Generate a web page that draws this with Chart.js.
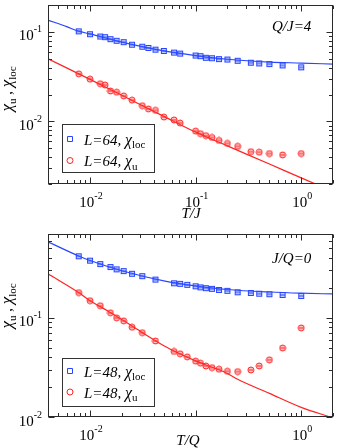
<!DOCTYPE html>
<html>
<head>
<meta charset="utf-8">
<script src="https://cdn.jsdelivr.net/npm/chart.js@4.4.1/dist/chart.umd.min.js"></script>
<style>
  html, body { margin: 0; padding: 0; background: #fff; }
  #wrap { position: relative; width: 338px; height: 448px; overflow: hidden; }
  canvas { position: absolute; left: 0; }
</style>
</head>
<body>
<div id="wrap">
  <canvas id="panelTop" width="338" height="224" style="top:0"></canvas>
  <canvas id="panelBottom" width="338" height="224" style="top:224px"></canvas>
</div>
<script>
// ---- data: upper panel (Q/J = 4, L = 64) ----
const tempTop = [0.0078125, 0.01, 0.0125, 0.013889, 0.015625, 0.017857, 0.020833, 0.025, 0.03125, 0.035714,
  0.041667, 0.05, 0.0625, 0.071429, 0.1, 0.111111, 0.125, 0.142857, 0.166667, 0.2, 0.25, 0.333333, 0.4, 0.5, 0.666667, 1];
const chiLocTop = [0.1016, 0.0943, 0.0888, 0.0874, 0.083, 0.0796, 0.0769, 0.072, 0.0684, 0.0662,
  0.0634, 0.0613, 0.0588, 0.0573, 0.0545, 0.0536, 0.0514, 0.0509, 0.0497, 0.0492, 0.0476, 0.0453, 0.0445, 0.0437, 0.0423, 0.0402];
const chiUTop = [0.034, 0.0297, 0.0264, 0.0255, 0.0219, 0.0212, 0.0193, 0.0173, 0.015, 0.0138,
  0.0133, 0.0112, 0.0104, 0.0096, 0.0078, 0.0073, 0.00695, 0.00662, 0.00613, 0.00568, 0.00527, 0.0046, 0.00453, 0.00438, 0.00423, 0.00438];
const fitTempLocTop = [0.004, 0.006, 0.0078, 0.01, 0.02, 0.05, 0.1, 0.2, 0.5, 1, 2];
const fitLocTop = [0.1355, 0.1146, 0.102, 0.095, 0.077, 0.0615, 0.0545, 0.0495, 0.046, 0.0449, 0.0437];
const fitTempUTop = [0.004, 0.01, 0.02, 0.05, 0.1, 0.2, 0.5, 1, 2];
const fitUTop = [0.0501, 0.0295, 0.0196, 0.0114, 0.0076, 0.00533, 0.00334, 0.00234, 0.00165];

// ---- data: lower panel (J/Q = 0, L = 48) ----
const tempBottom = [0.0078125, 0.01, 0.0125, 0.015625, 0.017857, 0.020833, 0.025, 0.03125, 0.041667, 0.0625,
  0.071429, 0.083333, 0.1, 0.111111, 0.125, 0.142857, 0.166667, 0.2, 0.25, 0.333333, 0.4, 0.5, 0.666667, 1];
const chiLocBottom = [0.417, 0.377, 0.348, 0.325, 0.308, 0.296, 0.278, 0.263, 0.243, 0.223,
  0.22, 0.215, 0.208, 0.203, 0.199, 0.196, 0.191, 0.187, 0.181, 0.178, 0.175, 0.173, 0.17, 0.166];
const chiUBottom = [0.1795, 0.149, 0.1324, 0.1124, 0.1, 0.0932, 0.0804, 0.0709, 0.0584, 0.0458,
  0.0434, 0.0404, 0.0366, 0.0349, 0.0327, 0.0315, 0.0303, 0.0289, 0.0287, 0.0298, 0.0327, 0.0377, 0.0496, 0.0791];
const fitTempLocBottom = [0.004, 0.0078, 0.01, 0.02, 0.05, 0.1, 0.2, 0.5, 1, 2];
const fitLocBottom = [0.583, 0.42, 0.378, 0.298, 0.236, 0.21, 0.193, 0.182, 0.177, 0.174];
const fitTempUBottom = [0.004, 0.0078, 0.01, 0.015, 0.02, 0.03, 0.05, 0.07, 0.1, 0.15, 0.2, 0.25, 0.5, 1, 2];
const fitUBottom = [0.278, 0.18, 0.149, 0.116, 0.096, 0.073, 0.0524, 0.0437, 0.0368, 0.0312, 0.0275, 0.024, 0.0173, 0.0125, 0.0098];

// ---- axes and tick labels ----
const xTickVals = [0.004, 0.005, 0.006, 0.007, 0.008, 0.009, 0.01, 0.02, 0.03, 0.04, 0.05, 0.06, 0.07, 0.08, 0.09,
  0.1, 0.2, 0.3, 0.4, 0.5, 0.6, 0.7, 0.8, 0.9, 1, 2];
const yTickValsTop = [0.002, 0.003, 0.004, 0.005, 0.006, 0.007, 0.008, 0.009, 0.01, 0.02, 0.03, 0.04, 0.05,
  0.06, 0.07, 0.08, 0.09, 0.1, 0.2];
const yTickValsBottom = [0.01, 0.02, 0.03, 0.04, 0.05, 0.06, 0.07, 0.08, 0.09, 0.1, 0.2, 0.3, 0.4, 0.5, 0.6, 0.7];
const xLabelValsTop = [0.01, 0.1, 1];
const xLabelExpTop = ['-2', '-1', '0'];
const xLabelValsBottom = [0.01, 1];
const xLabelExpBottom = ['-2', '0'];
const yLabelVals = [0.01, 0.1];
const yLabelExp = ['-2', '-1'];

const SERIF = "'Liberation Serif', 'DejaVu Serif', serif";
const BLUE = 'rgb(40,70,255)';
const RED = 'rgb(255,35,35)';

function makeMarker(kind, stroke, fill) {
  const c = document.createElement('canvas');
  c.width = 8; c.height = 8;
  const g = c.getContext('2d');
  g.lineWidth = 1; g.strokeStyle = stroke; g.fillStyle = fill;
  if (kind === 'square') {
    g.fillRect(1.5, 1.5, 5, 5);
    g.strokeRect(1.5, 1.5, 5, 5);
  } else {
    g.beginPath(); g.arc(4, 4, 3, 0, Math.PI * 2); g.fill(); g.stroke();
  }
  // error bar dash through the symbol
  g.beginPath(); g.moveTo(2, 4); g.lineTo(6, 4); g.stroke();
  return c;
}
const squareMark = makeMarker('square', BLUE, 'rgba(90,120,255,0.35)');
const circleMark = makeMarker('circle', RED, 'rgba(255,90,90,0.35)');

function pts(xs, ys) { return xs.map((v, i) => ({ x: v, y: ys[i] })); }

// draw a row of text pieces with different fonts / offsets
function drawRuns(ctx, parts, x, y, align) {
  let w = 0;
  for (const p of parts) { ctx.font = p.font; w += ctx.measureText(p.text).width; }
  let cx = align === 'center' ? x - w / 2 : (align === 'right' ? x - w : x);
  for (const p of parts) {
    ctx.font = p.font;
    ctx.fillText(p.text, cx, y + (p.dy || 0));
    cx += ctx.measureText(p.text).width;
  }
}
const power = exp => [{ text: '10', font: `15px ${SERIF}` }, { text: exp, font: `10px ${SERIF}`, dy: -8 }];
const isDecade = v => Math.abs(Math.log10(v) - Math.round(Math.log10(v))) < 1e-6;

const framePlugin = {
  id: 'frame',
  afterDatasetsDraw(chart, args, o) {
    const { ctx, chartArea: a, scales: { x, y } } = chart;
    const L = Math.floor(a.left) + 0.5, R = Math.ceil(a.right) - 0.5;
    const T = Math.floor(a.top) + 0.5, B = Math.ceil(a.bottom) - 0.5;
    ctx.save();
    ctx.strokeStyle = '#2a2a2a';
    ctx.lineWidth = 1;
    ctx.strokeRect(L, T, R - L, B - T);

    // inward ticks on all four sides
    ctx.beginPath();
    x.ticks.forEach(t => {
      const px = Math.round(x.getPixelForValue(t.value)) + 0.5;
      const len = isDecade(t.value) ? 6 : 3.5;
      ctx.moveTo(px, B); ctx.lineTo(px, B - len);
      ctx.moveTo(px, T); ctx.lineTo(px, T + len);
    });
    y.ticks.forEach(t => {
      const py = Math.round(y.getPixelForValue(t.value)) + 0.5;
      const len = isDecade(t.value) ? 6 : 3.5;
      ctx.moveTo(L, py); ctx.lineTo(L + len, py);
      ctx.moveTo(R, py); ctx.lineTo(R - len, py);
    });
    ctx.stroke();

    // tick labels
    ctx.fillStyle = '#000';
    ctx.textBaseline = 'alphabetic';
    ctx.textAlign = 'left';
    o.xLabelVals.forEach((v, i) => {
      drawRuns(ctx, power(o.xLabelExp[i]), x.getPixelForValue(v) + 1, B + 23, 'center');
    });
    yLabelVals.forEach((v, i) => {
      drawRuns(ctx, power(yLabelExp[i]), 42, y.getPixelForValue(v) + 8.5, 'right');
    });

    // axis titles
    const it = `italic 15px ${SERIF}`;
    drawRuns(ctx, [{ text: o.xTitle, font: it }], o.xTitlePos[0], o.xTitlePos[1], 'center');
    ctx.save();
    ctx.translate(o.yTitlePos[0], o.yTitlePos[1]);
    ctx.rotate(-Math.PI / 2);
    drawRuns(ctx, [
      { text: 'χ', font: `italic 17px ${SERIF}` },
      { text: 'u', font: `11px ${SERIF}`, dy: 4 },
      { text: ' , ', font: `15px ${SERIF}` },
      { text: 'χ', font: `italic 17px ${SERIF}` },
      { text: 'loc', font: `11px ${SERIF}`, dy: 4 }
    ], 0, 0, 'center');
    ctx.restore();

    // panel note
    drawRuns(ctx, [{ text: o.note, font: it }], o.notePos[0], o.notePos[1], 'left');

    // legend box
    const lb = o.legendBox;
    ctx.fillStyle = '#fff';
    ctx.fillRect(lb[0], lb[1], lb[2], lb[3]);
    ctx.strokeStyle = '#333';
    ctx.strokeRect(lb[0] + 0.5, lb[1] + 0.5, lb[2], lb[3]);
    const rows = [
      { kind: 'square', color: BLUE, sub: 'loc' },
      { kind: 'circle', color: RED, sub: 'u' }
    ];
    rows.forEach((r, i) => {
      const my = o.legendRows[i];
      ctx.strokeStyle = r.color;
      ctx.beginPath();
      if (r.kind === 'square') ctx.rect(67.5, my - 2.5, 5, 5);
      else ctx.arc(70, my, 3, 0, Math.PI * 2);
      ctx.stroke();
      ctx.fillStyle = '#000';
      drawRuns(ctx, [
        { text: o.legendName, font: it },
        { text: 'χ', font: `italic 16px ${SERIF}` },
        { text: r.sub, font: `11px ${SERIF}`, dy: 3.5 }
      ], 84, my + 5.5, 'left');
    });
    ctx.restore();
  }
};

function makePanel(id, d) {
  return new Chart(document.getElementById(id), {
    type: 'scatter',
    data: {
      datasets: [
        { data: pts(d.temp, d.chiLoc), pointStyle: squareMark, showLine: false },
        { data: pts(d.temp, d.chiU), pointStyle: circleMark, showLine: false },
        { data: pts(d.fitTLoc, d.fitLoc), showLine: true, pointRadius: 0, borderColor: BLUE,
          borderWidth: 1.2, cubicInterpolationMode: 'monotone' },
        { data: pts(d.fitTU, d.fitU), showLine: true, pointRadius: 0, borderColor: RED,
          borderWidth: 1.2, cubicInterpolationMode: 'monotone' }
      ]
    },
    options: {
      responsive: false,
      animation: false,
      events: [],
      layout: { padding: { top: d.padTop, right: 1, left: 0, bottom: 0 } },
      scales: {
        x: {
          type: 'logarithmic', min: 0.004, max: 2, bounds: 'data',
          grid: { display: false }, border: { display: false }, ticks: { display: false },
          afterBuildTicks: s => { s.ticks = xTickVals.map(v => ({ value: v })); },
          afterFit: s => { s.height = d.xHeight; }
        },
        y: {
          type: 'logarithmic', min: d.yMin, max: d.yMax, bounds: 'data',
          grid: { display: false }, border: { display: false }, ticks: { display: false },
          afterBuildTicks: s => { s.ticks = d.yTicks.map(v => ({ value: v })); },
          afterFit: s => { s.width = 48; }
        }
      },
      plugins: {
        legend: { display: false },
        tooltip: { enabled: false },
        frame: {
          xLabelVals: d.xLabelVals, xLabelExp: d.xLabelExp,
          xTitle: d.xTitle, xTitlePos: d.xTitlePos, yTitlePos: d.yTitlePos,
          note: d.note, notePos: d.notePos,
          legendName: d.legendName, legendBox: d.legendBox, legendRows: d.legendRows
        }
      }
    },
    plugins: [framePlugin]
  });
}

makePanel('panelTop', {
  temp: tempTop, chiLoc: chiLocTop, chiU: chiUTop,
  fitTLoc: fitTempLocTop, fitLoc: fitLocTop, fitTU: fitTempUTop, fitU: fitUTop,
  yMin: 0.002, yMax: 0.2, yTicks: yTickValsTop, padTop: 3, xHeight: 40,
  xLabelVals: xLabelValsTop, xLabelExp: xLabelExpTop,
  xTitle: 'T/J', xTitlePos: [191, 217.5], yTitlePos: [12, 89],
  note: 'Q/J=4', notePos: [272, 30.5],
  legendName: 'L=64, ', legendBox: [62, 124, 92, 48], legendRows: [139, 160.5]
});

makePanel('panelBottom', {
  temp: tempBottom, chiLoc: chiLocBottom, chiU: chiUBottom,
  fitTLoc: fitTempLocBottom, fitLoc: fitLocBottom, fitTU: fitTempUBottom, fitU: fitUBottom,
  yMin: 0.01, yMax: 0.7, yTicks: yTickValsBottom, padTop: 10, xHeight: 31,
  xLabelVals: xLabelValsBottom, xLabelExp: xLabelExpBottom,
  xTitle: 'T/Q', xTitlePos: [188, 221], yTitlePos: [12, 82],
  note: 'J/Q=0', notePos: [272, 38.5],
  legendName: 'L=48, ', legendBox: [62, 134, 92, 48], legendRows: [147, 168]
});
</script>
</body>
</html>
